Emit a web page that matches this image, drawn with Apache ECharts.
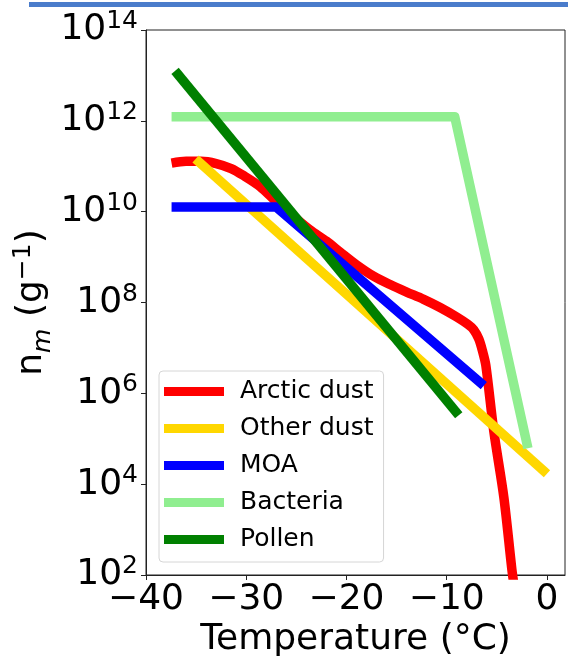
<!DOCTYPE html>
<html><head><meta charset="utf-8">
<script src="https://cdn.jsdelivr.net/npm/echarts@6/dist/echarts.min.js"></script>
<style>html,body{margin:0;padding:0;background:#fff}#c{width:568px;height:662px}</style>
</head><body><div id="c"></div>
<script>
// ---- data ----
const xTicks = [-40, -30, -20, -10, 0];
const yTicks = [1e2, 1e4, 1e6, 1e8, 1e10, 1e12, 1e14];
const seriesNames = ['Arctic dust', 'Other dust', 'MOA', 'Bacteria', 'Pollen'];
const seriesColors = ['#ff0000', '#ffd700', '#0000ff', '#90ee90', '#008000'];

const arcticT = [-37.45, -36.0, -34.5, -33.0, -31.5, -30.3, -28.6, -27.0, -25.3, -23.65, -22.0, -20.65, -19.0, -17.3, -15.6, -14.0, -12.3, -10.66, -9.0, -7.9, -7.3, -6.8, -6.45, -6.1, -5.3, -4.3, -3.5, -3.3];
const arcticN = [1.175e11, 1.288e11, 1.288e11, 1.148e11, 8.91e10, 6.31e10, 3.55e10, 1.66e10, 7.94e9, 3.98e9, 2.24e9, 1.30e9, 6.76e8, 3.80e8, 2.45e8, 1.70e8, 1.175e8, 7.76e7, 4.79e7, 3.31e7, 2.51e7, 1.58e7, 8.91e6, 4.17e6, 1.45e5, 5.13e3, 132, 63];

const otherDustT = [-35.05, 0.0];
const otherDustN = [1.45e11, 1.7e4];

const moaT = [-37.45, -27.0, -6.3];
const moaN = [1.26e10, 1.26e10, 1.48e6];

const bacteriaT = [-37.45, -9.2, -1.9];
const bacteriaN = [1.23e12, 1.23e12, 6.2e4];

const pollenT = [-37.1, -8.8];
const pollenN = [1.26e13, 3.3e5];

// ---- chart ----
const FONT = 'DejaVu Sans';
const zip = (a, b) => a.map((v, i) => [v, b[i]]);
const seriesData = [
  zip(arcticT, arcticN),
  zip(otherDustT, otherDustN),
  zip(moaT, moaN),
  zip(bacteriaT, bacteriaN),
  zip(pollenT, pollenN)
];

const chart = echarts.init(document.getElementById('c'), null, {renderer: 'canvas'});
chart.setOption({
  animation: false,
  color: seriesColors,
  backgroundColor: '#ffffff',
  graphic: [{
    type: 'rect', left: 29, top: 2,
    shape: {width: 539, height: 5},
    style: {fill: '#4a7ccb'}
  }],
  grid: {left: 146, top: 30, right: 3, bottom: 87, show: true,
         containLabel: false, outerBoundsMode: 'none',
         borderColor: '#222', borderWidth: 1, backgroundColor: 'transparent'},
  legend: {
    orient: 'vertical', left: 159, top: 371,
    padding: [8, 10, 10, 5],
    itemWidth: 60, itemHeight: 9, itemGap: 12,
    icon: 'rect',
    backgroundColor: '#ffffff', borderColor: '#d6d6d6', borderWidth: 1, borderRadius: 4,
    textStyle: {fontFamily: FONT, fontSize: 25, color: '#000', padding: [0, 0, 0, 11]},
    data: seriesNames
  },
  xAxis: {
    type: 'value', min: -40, max: 1.8, interval: 10,
    name: 'Temperature (°C)', nameLocation: 'middle', nameGap: 47, nameMoveOverlap: false,
    nameTextStyle: {fontFamily: FONT, fontSize: 36, color: '#000'},
    axisLine: {show: true, onZero: false, lineStyle: {color: '#222', width: 1}},
    axisTick: {show: true, inside: false, length: 5, lineStyle: {color: '#222'}, customValues: xTicks},
    axisLabel: {fontFamily: FONT, fontSize: 36, color: '#000', margin: 7, customValues: xTicks,
      formatter: v => String(v).replace('-', '\u2212')},
    splitLine: {show: false}
  },
  yAxis: {
    type: 'log', logBase: 10, min: 1e2, max: 1e14, interval: 2,
    name: '{n|n}{m|m}{n| (g}{s|\u22121}{n|)}',
    nameLocation: 'middle', nameGap: 90, nameRotate: 90, nameMoveOverlap: false,
    nameTextStyle: {
      fontFamily: FONT, color: '#000',
      rich: {
        n: {fontFamily: FONT, fontSize: 36, lineHeight: 36, padding: [0, 0, 6, 0], verticalAlign: 'bottom', color: '#000'},
        m: {fontFamily: FONT, fontSize: 25, lineHeight: 25, fontStyle: 'italic', verticalAlign: 'bottom', color: '#000'},
        s: {fontFamily: FONT, fontSize: 25, lineHeight: 25, padding: [0, 0, 20, 0], verticalAlign: 'bottom', color: '#000'}
      }
    },
    axisLine: {show: true, onZero: false, lineStyle: {color: '#222', width: 1}},
    axisTick: {show: true, inside: false, length: 5, lineStyle: {color: '#222'}, customValues: yTicks},
    axisLabel: {
      margin: 8, customValues: yTicks,
      formatter: v => '{b|10}{s|' + Math.round(Math.log10(v)) + '}',
      rich: {
        b: {fontFamily: FONT, fontSize: 36, lineHeight: 36, verticalAlign: 'bottom', color: '#000'},
        s: {fontFamily: FONT, fontSize: 25, lineHeight: 25, padding: [0, 0, 14, 0], verticalAlign: 'bottom', color: '#000'}
      }
    },
    splitLine: {show: false},
    minorTick: {show: false}
  },
  series: seriesNames.map((name, i) => ({
    name: name, type: 'line', data: seriesData[i],
    showSymbol: false, symbol: 'none', clip: true,
    smooth: i === 0 ? 0.3 : false,
    lineStyle: {width: 9.5, cap: 'butt', join: 'round', color: seriesColors[i]},
    itemStyle: {color: seriesColors[i]},
    emphasis: {disabled: true}
  }))
});
</script>
</body></html>
